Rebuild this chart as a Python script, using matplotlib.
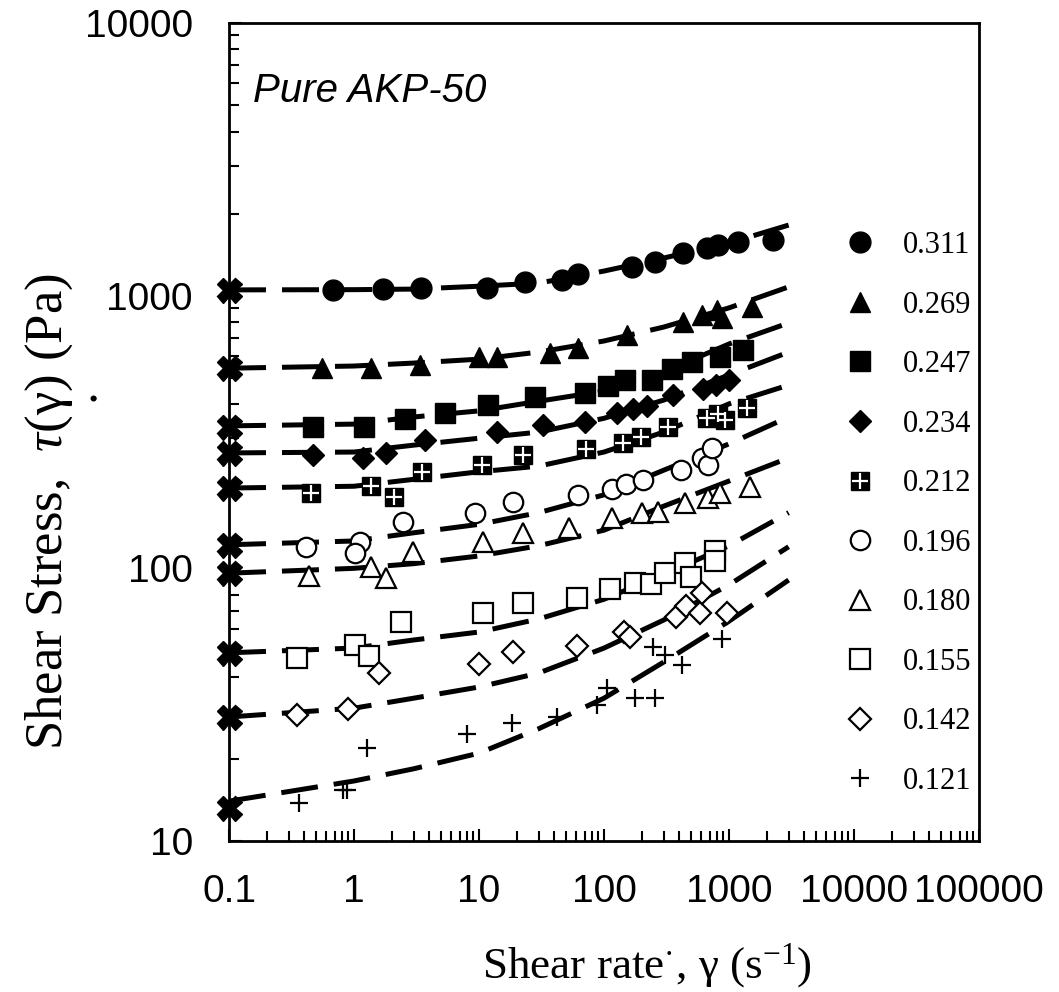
import matplotlib
matplotlib.use("Agg")
from matplotlib import pyplot as plt
from matplotlib.ticker import FuncFormatter, NullFormatter, LogLocator

plt.rcParams['mathtext.fontset'] = 'custom'
plt.rcParams['mathtext.rm'] = 'Liberation Serif'
plt.rcParams['mathtext.it'] = 'Liberation Serif:italic'

# solids fraction of each suspension
labels = ['0.311', '0.269', '0.247', '0.234', '0.212', '0.196', '0.180', '0.155', '0.142', '0.121']

rate_311 = [0.68, 1.71, 3.44, 11.6, 23.3, 46, 62, 167, 256, 429, 667, 817, 1180, 2250]
tau_311 = [1050, 1057, 1067, 1067, 1122, 1140, 1200, 1273, 1328, 1433, 1495, 1534, 1573, 1600]
rate_269 = [0.555, 1.37, 3.37, 10, 13.9, 37, 62, 153, 429, 608, 802, 879, 1528]
tau_269 = [542, 542, 557, 596, 596, 616, 642, 716, 800, 849, 885, 828, 908]
rate_247 = [0.47, 1.2, 2.56, 5.35, 11.8, 28, 70.5, 108, 147, 242, 350, 506, 847, 1294]
tau_247 = [330, 330, 352, 371, 397, 425, 439, 466, 490, 490, 538, 571, 595, 632]
rate_234 = [0.47, 1.18, 1.80, 3.70, 13.9, 32.5, 70.5, 127, 171, 221, 356, 619, 787, 1000]
tau_234 = [260, 254, 265, 295, 316, 335, 344, 371, 384, 394, 432, 454, 470, 490]
rate_212 = [0.45, 1.37, 2.09, 3.50, 10.6, 22.5, 71.8, 142, 198, 325, 667, 817, 929, 1393]
tau_212 = [189, 200, 183, 225, 239, 260, 274, 288, 303, 330, 356, 368, 350, 387]
rate_196 = [0.41, 1.12, 1.02, 2.47, 9.3, 18.7, 62, 116, 150, 205, 413, 608, 680, 731]
tau_196 = [120, 125, 114, 148, 160, 175, 186, 195, 204, 211, 229, 254, 239, 276]
rate_180 = [0.44, 1.37, 1.80, 2.96, 10.8, 22.5, 52.5, 116, 201, 270, 445, 680, 847, 1472]
tau_180 = [93.8, 101, 92, 115, 125, 135, 140, 153, 160, 161, 173, 181, 189, 199]
rate_155 = [0.35, 1.02, 1.32, 2.38, 10.8, 22.5, 60.8, 112, 177, 238, 308, 445, 497, 773, 773]
tau_155 = [46.9, 52.3, 47.7, 63.5, 68.6, 74.6, 77.8, 84, 88.3, 87.6, 96, 105, 93, 116, 106]
rate_142 = [0.35, 0.90, 1.58, 10, 18.7, 60.8, 145, 161, 377, 453, 586, 608, 964]
tau_142 = [29, 30.5, 41.3, 44.6, 49.3, 51.9, 58.4, 56, 66.2, 72.7, 68.6, 81.2, 68.6]
rate_121 = [0.36, 0.82, 0.88, 1.27, 8.0, 18.4, 42, 88, 106, 177, 256, 247, 308, 421, 879]
tau_121 = [13.8, 15.4, 15.4, 21.9, 24.7, 27.1, 28.5, 31.5, 36.4, 33.4, 33.4, 51.4, 48, 44.2, 55]

# model curves
fit_rate = [0.1, 1, 3, 10, 30, 100, 300, 1000, 3000]
fit_311 = [1050, 1052, 1057, 1083, 1112, 1231, 1374, 1560, 1815]
fit_269 = [542, 552, 566, 585, 621, 682, 767, 902, 1077]
fit_247 = [333, 338, 359, 378, 410, 447, 525, 665, 794]
fit_234 = [265, 267, 283, 300, 316, 355, 414, 512, 621]
fit_212 = [197, 200, 212, 226, 237, 267, 316, 401, 470]
fit_196 = [122, 126, 135, 145, 160, 186, 229, 286, 359]
fit_180 = [96, 100, 104, 111, 121, 138, 169, 209, 254]
fit_155 = [49, 51, 54.6, 58.4, 65.2, 77, 95, 121, 160]
fit_142 = [28.5, 30.7, 33.4, 36.7, 41.3, 51, 64.6, 87, 120]
fit_121 = [14, 16.6, 18.4, 21, 25.8, 33.4, 45.3, 64, 90.6]

# yield stresses (X marks at the left axis)
tau0_rate = 0.1
tau0 = [1050, 542, 330, 265, 197, 122, 96, 49, 28.5, 13.2]

rates = [rate_311, rate_269, rate_247, rate_234, rate_212, rate_196, rate_180, rate_155, rate_142, rate_121]
taus = [tau_311, tau_269, tau_247, tau_234, tau_212, tau_196, tau_180, tau_155, tau_142, tau_121]
fits = [fit_311, fit_269, fit_247, fit_234, fit_212, fit_196, fit_180, fit_155, fit_142, fit_121]

# marker, size, filled
styles = [('o', 15, True), ('^', 15, True), ('s', 14.5, True), ('D', 11.5, True), ('s', 13.5, True),
          ('o', 14, False), ('^', 14, False), ('s', 14, False), ('D', 11, False), ('+', 13, False)]

fig = plt.figure(figsize=(10.59, 9.92), dpi=100)
ax = fig.add_axes([229 / 1059, 1 - 841 / 992, 750 / 1059, 818 / 992])
ax.set_xscale('log')
ax.set_yscale('log')
ax.set_xlim(0.1, 100000)
ax.set_ylim(10, 10000)

handles = []
for i, lab in enumerate(labels):
    ax.plot(fit_rate, fits[i], color='black', lw=3.6, dashes=(7.4, 3.2), zorder=2)
    mk, ms, filled = styles[i]
    if mk == '+':
        h, = ax.plot(rates[i], taus[i], ls='none', marker='+', ms=ms, mew=1.6, color='black', zorder=3)
    elif filled:
        h, = ax.plot(rates[i], taus[i], ls='none', marker=mk, ms=ms, mfc='black', mec='black', mew=1, zorder=3)
    else:
        h, = ax.plot(rates[i], taus[i], ls='none', marker=mk, ms=ms, mfc='white', mec='black', mew=1.6, zorder=3)
    if lab == '0.212':
        p, = ax.plot(rates[i], taus[i], ls='none', marker='+', ms=ms * 0.85, mew=1.6, color='white', zorder=3.5)
        h = (h, p)
    handles.append(h)
    ax.plot(tau0_rate, tau0[i], marker='X', ms=18, color='black', ls='none', clip_on=False, zorder=5)

for s in ax.spines.values():
    s.set_linewidth(2)

ax.tick_params(which='both', direction='in', top=False, right=False, width=1.5,
               labelsize=28)
ax.tick_params(which='major', length=9)
ax.tick_params(which='minor', length=7)
ax.tick_params(axis='y', pad=26)
ax.tick_params(axis='x', pad=24)
ax.xaxis.set_major_locator(LogLocator(base=10, numticks=10))
ax.xaxis.set_minor_locator(LogLocator(base=10, subs=range(2, 10), numticks=20))
fmt = FuncFormatter(lambda v, p: f'{v:g}')
ax.xaxis.set_major_formatter(fmt)
ax.yaxis.set_major_formatter(fmt)
ax.xaxis.set_minor_formatter(NullFormatter())
ax.yaxis.set_minor_formatter(NullFormatter())
for t in ax.get_xticklabels() + ax.get_yticklabels():
    t.set_fontfamily('Liberation Sans')

ax.set_xlabel('Shear rate$^{·}$, γ (s$^{-1}$)', fontsize=32.5, family='Liberation Serif',
              va='baseline', ha='center')
ax.xaxis.set_label_coords((647 - 229) / 750, (841 - 978) / 818)
ax.set_ylabel(r'Shear Stress,  $\tau$(γ) (Pa)', fontsize=38, family='Liberation Serif',
              va='baseline', ha='center')
ax.yaxis.set_label_coords((62 - 229) / 750, (841 - 512) / 818)
# stray dot of the gamma-dot symbol
fig.text(93 / 1059, 1 - 401 / 992, '.', fontsize=38, family='Liberation Serif', ha='center', va='baseline')

ax.text((253 - 229) / 750, (841 - 102) / 818, 'Pure AKP-50', transform=ax.transAxes,
        fontsize=29, style='italic', family='Liberation Sans', va='baseline')

ax.legend(handles, labels, loc='upper left', bbox_to_anchor=(845 / 1059, 1 - 231 / 992),
          bbox_transform=fig.transFigure, frameon=False, numpoints=1,
          prop={'family': 'Liberation Serif', 'size': 22},
          handlelength=1.0, handletextpad=0.9, labelspacing=1.0, borderpad=0, borderaxespad=0)

fig.savefig('out.png', dpi=100)
